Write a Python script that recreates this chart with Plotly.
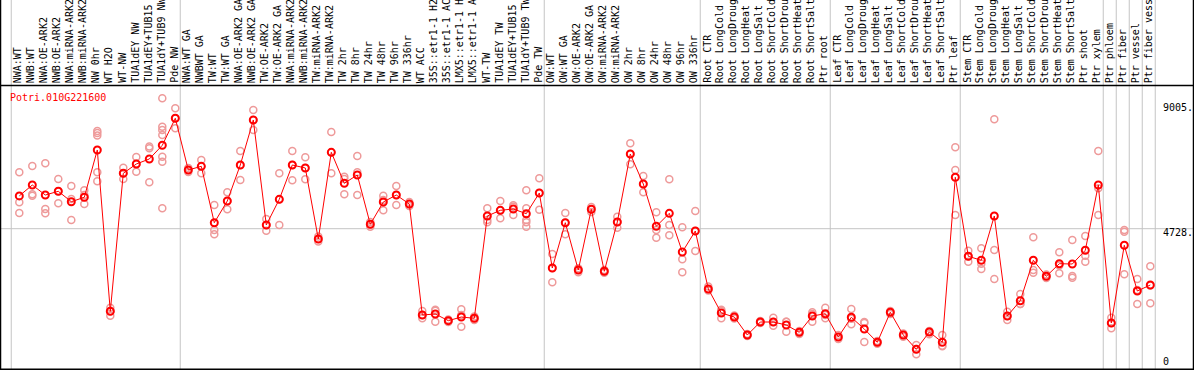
import plotly.graph_objects as go

# ---------------- data ----------------
sample_labels = [
    "NWA:WT", "NWB:WT", "NWA:OE-ARK2", "NWB:OE-ARK2", "NWA:miRNA-ARK2", "NWB:miRNA-ARK2",
    "NW 0hr", "WT H2O", "WT-NW", "TUA1dEY NW", "TUA1dEY+TUB15 NW", "TUA1dY+TUB9 NW", "Pde NW",
    "NWA:WT GA", "NWBWT GA", "TW:WT", "TW:WT GA", "NWA:OE-ARK2 GA", "NWB:OE-ARK2 GA",
    "TW:OE-ARK2", "TW:OE-ARK2 GA", "NWA:miRNA-ARK2 GA", "NWB:miRNA-ARK2 GA", "TW:miRNA-ARK2",
    "TW:miRNA-ARK2 GA", "TW 2hr", "TW 8hr", "TW 24hr", "TW 48hr", "TW 96hr", "TW 336hr", "WT ACC",
    "35S::etr1-1 H2O", "35S::etr1-1 ACC", "LMX5::etr1-1 H2O", "LMX5::etr1-1 ACC", "WT-TW",
    "TUA1dEY TW", "TUA1dEY+TUB15 TW", "TUA1dY+TUB9 TW", "Pde TW",
    "OW:WT", "OW:WT GA", "OW:OE-ARK2", "OW:OE-ARK2 GA", "OW:miRNA-ARK2", "OW:miRNA-ARK2 GA",
    "OW 2hr", "OW 8hr", "OW 24hr", "OW 48hr", "OW 96hr", "OW 336hr",
    "Root CTR", "Root LongCold", "Root LongDrought", "Root LongHeat", "Root LongSalt",
    "Root ShortCold", "Root ShortDrought", "Root ShortHeat", "Root ShortSalt", "Ptr root",
    "Leaf CTR", "Leaf LongCold", "Leaf LongDrought", "Leaf LongHeat", "Leaf LongSalt",
    "Leaf ShortCold", "Leaf ShortDrought", "Leaf ShortHeat", "Leaf ShortSalt", "Ptr leaf",
    "Stem CTR", "Stem LongCold", "Stem LongDrought", "Stem LongHeat", "Stem LongSalt",
    "Stem ShortCold", "Stem ShortDrought", "Stem ShortHeat", "Stem ShortSalt", "Ptr shoot",
    "Ptr xylem", "Ptr phloem", "Ptr fiber", "Ptr vessel", "Ptr fiber vessel",
]

mean_values = [
    5920, 6316, 5952, 6087, 5709, 5869, 7588, 1726, 6741, 7079, 7261, 7759, 8740,
    6861, 6995, 4946, 5734, 7043, 8678, 4862, 5796, 7043, 6934, 4354, 7504, 6378,
    6679, 4888, 5698, 5952, 5625, 1592, 1628, 1385, 1519, 1472, 5189, 5396, 5444,
    5273, 6025,
    3300, 4946, 3227, 5433, 3180, 4971, 7442, 6352, 4815, 5287, 3881, 4644,
    2537, 1664, 1519, 865, 1337, 1337, 1228, 963, 1555, 1639,
    792, 1508, 1083, 600, 1690, 865, 345, 974, 600, 6596,
    3725, 3580, 5189, 1555, 2111, 3580, 2998, 3456, 3445, 3943, 6316,
    1301, 4125, 2464, 2682,
]

replicate_values = [
    [6777, 5687, 5298], [7006, 5978, 5927], [7104, 5444, 5287], [6534, 5651, 6087],
    [6280, 5044, 5807], [6123, 5952, 5625], [8278, 8206, 8115, 6777, 6450],
    [1857, 1566, 1726], [6945, 6534, 6741], [7333, 6799, 7079], [7650, 6414, 7715],
    [9467, 8435, 8315, 8133, 7344, 7163, 5469], [9103, 8376, 8740],
    [6934, 6861, 6788], [7224, 6741, 6995], [5589, 4681, 4524], [6051, 5433, 5734],
    [7551, 6498, 7043], [9041, 8315, 8678], [5080, 4655, 4862], [6741, 4862, 5796],
    [7551, 6487, 7043], [7323, 6523, 6934], [4444, 4354, 4263], [8242, 6741, 7504],
    [6618, 6534, 5978], [7370, 6777, 5953], [4971, 4888, 4800], [5927, 5396, 5771],
    [6280, 5589, 5952], [5698, 5625, 5553], [1737, 1472, 1592], [1748, 1348, 1784],
    [1428, 1385, 1337], [1799, 1167, 1592], [1537, 1472, 1410], [5469, 5044, 4960],
    [5734, 5106, 5396], [5527, 5226, 5578], [6123, 5469, 5044, 4960, 4800],
    [6559, 5418, 6025],
    [3808, 2780, 3300], [5298, 4524, 4946], [3289, 3227, 3143], [5516, 5433, 5335],
    [3227, 3180, 3129], [5164, 4764, 4971], [7831, 7068, 7442], [6643, 6051, 6352],
    [5324, 4681, 4401], [6523, 4862, 4488], [4779, 3616, 3143], [5371, 3917, 4644],
    [2627, 2537, 2482], [1737, 1472, 1784], [1574, 1519, 1465], [901, 865, 829],
    [1374, 1337, 1301], [1494, 1203, 1337], [1348, 985, 1348], [1010, 963, 901],
    [1690, 1348, 1628], [1857, 1472, 1592],
    [865, 792, 720], [1810, 1254, 1457], [1301, 611, 1337], [647, 600, 549],
    [1737, 1690, 1628], [919, 865, 803], [501, 164, 356], [1010, 974, 890],
    [865, 476, 458], [7686, 6861, 5226],
    [3928, 3529, 3725], [4016, 3263, 3456], [8703, 3954, 2900], [1712, 1410, 1555],
    [2355, 1991, 1991], [4415, 3227, 3129], [3063, 2998, 2936], [3870, 3107, 3391],
    [4317, 3009, 2947], [4463, 3747, 3529], [7551, 6196, 5226],
    [1494, 1108, 1301], [4681, 3071, 4619], [2900, 1991, 2500], [3361, 2017, 2667],
]

# last sample index of each group (separators drawn after these)
group_ends = [-1, 12, 40, 52, 62, 72, 83, 84, 85, 86, 87]
axis_labels = ["9005.", "4728.", "0"]
gene_id = "Potri.010G221600"
grid_value = 4728

# ---------------- layout geometry ----------------
W, H = 1194, 370
TOP, BOT = 86, 369          # plot area pixel rows
PH = BOT - TOP
FONT = "DejaVu Sans Mono"


def py(p):
    """pixel row -> paper y"""
    return (BOT - p) / PH


def px(p):
    return p / W


n = len(sample_labels)
xs = list(range(n))

rep_x, rep_y = [], []
for i, reps in enumerate(replicate_values):
    for v in reps:
        rep_x.append(i)
        rep_y.append(v)

fig = go.Figure()
fig.add_trace(go.Scatter(
    x=rep_x, y=rep_y, mode="markers",
    marker=dict(symbol="circle-open", size=7, color="#ee9a9a", line=dict(width=1.5)),
    hoverinfo="skip", showlegend=False,
))
fig.add_trace(go.Scatter(
    x=xs, y=mean_values, mode="lines+markers",
    line=dict(color="#ff0000", width=1),
    marker=dict(symbol="circle-open", size=7, color="#ff0000", line=dict(width=2)),
    showlegend=False,
))

shapes = []
# horizontal gridline
shapes.append(dict(type="line", xref="paper", yref="y", x0=0, x1=1, y0=grid_value, y1=grid_value,
                   line=dict(color="#c4c4c4", width=1), layer="below"))
# group separators (run through the header too)
for k in group_ends:
    xv = k + 0.38
    shapes.append(dict(type="line", xref="x", yref="paper", x0=xv, x1=xv, y0=0, y1=py(0),
                       line=dict(color="#c4c4c4", width=1), layer="below"))
# black frame
shapes.append(dict(type="line", xref="paper", yref="paper", x0=px(0.5), x1=px(0.5), y0=py(370), y1=py(0),
                   line=dict(color="black", width=1.5)))
shapes.append(dict(type="line", xref="paper", yref="paper", x0=px(1193.5), x1=px(1193.5), y0=py(370), y1=py(0),
                   line=dict(color="black", width=1.5)))
shapes.append(dict(type="line", xref="paper", yref="paper", x0=0, x1=1, y0=py(85.5), y1=py(85.5),
                   line=dict(color="black", width=1.5)))
shapes.append(dict(type="line", xref="paper", yref="paper", x0=0, x1=1, y0=py(369.3), y1=py(369.3),
                   line=dict(color="black", width=1.5)))

annotations = []
for i, lab in enumerate(sample_labels):
    annotations.append(dict(
        x=i, xref="x", y=py(83), yref="paper", text=lab, textangle=-90,
        xanchor="center", yanchor="bottom", showarrow=False, xshift=-1,
        font=dict(family=FONT, size=10, color="black"), borderpad=0, borderwidth=0,
    ))
annotations.append(dict(
    x=px(9), xref="paper", y=py(91), yref="paper", text=gene_id, xanchor="left", yanchor="top",
    showarrow=False, font=dict(family=FONT, size=10, color="#ff0000"), borderpad=0,
))
for lab, top in zip(axis_labels, [101, 226, 355]):
    annotations.append(dict(
        x=px(1162), xref="paper", y=py(top), yref="paper", text=lab, xanchor="left", yanchor="top",
        showarrow=False, font=dict(family=FONT, size=10, color="black"), borderpad=0,
    ))

# x mapping: pixel = 19.3 + 13*i ; y mapping: value = 36.34*(358.8 - pixel)
x0 = -19.3 / 13
x1 = x0 + W / 13
y_top = 36.34 * (358.8 - TOP)
y_bot = 36.34 * (358.8 - BOT)

fig.update_layout(
    width=W, height=H,
    margin=dict(l=0, r=0, t=TOP, b=H - BOT, pad=0),
    paper_bgcolor="white", plot_bgcolor="white",
    xaxis=dict(range=[x0, x1], showgrid=False, zeroline=False, showticklabels=False,
               showline=False, fixedrange=True),
    yaxis=dict(range=[y_bot, y_top], showgrid=False, zeroline=False, showticklabels=False,
               showline=False, fixedrange=True),
    shapes=shapes, annotations=annotations, showlegend=False,
)

fig.write_html(
    "out.html",
    config={"displayModeBar": False},
    post_script="document.body.style.margin='0px';document.body.style.overflow='hidden';",
)
